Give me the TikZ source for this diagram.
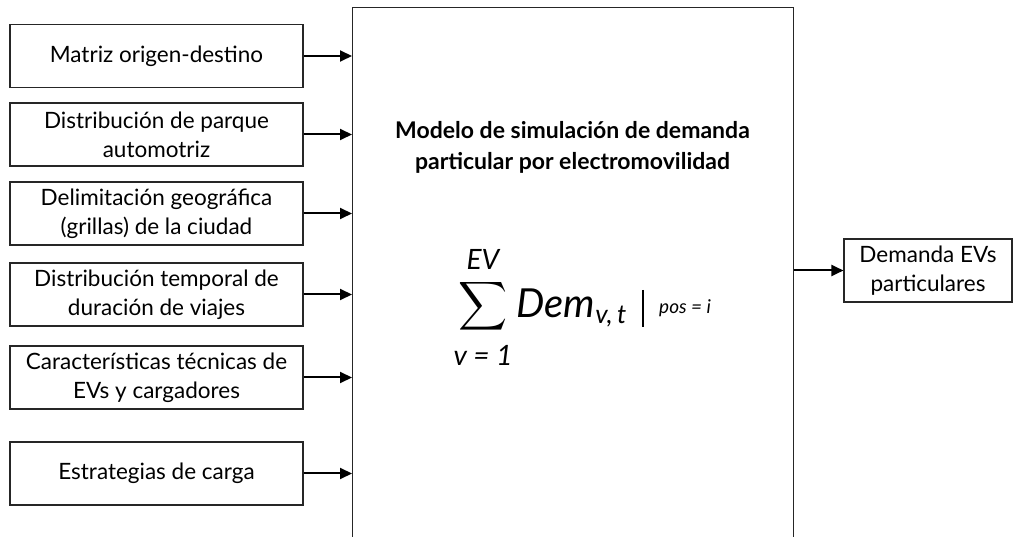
\documentclass[tikz,border=0pt]{standalone}
\usepackage{fontspec}
\usepackage{graphicx}
\setmainfont{Lato}
\usetikzlibrary{arrows.meta}
\begin{document}
\begin{tikzpicture}[x=1pt,y=-1pt,
  inbox/.style={draw=black!85, line width=1.1pt, rectangle, minimum width=293pt, minimum height=63pt,
    inner sep=0pt, align=center, font=\fontsize{22.5}{29}\selectfont},
  conn/.style={line width=2pt, -{Triangle[length=12pt,width=11pt]}},
  mtxt/.style={inner sep=0pt, font=\fontsize{#1}{#1}\selectfont\itshape}
]
\useasboundingbox (0,0) rectangle (1013,537);
\fill[white] (0,0) rectangle (1013,537);
\node[inbox] (b1) at (156.5,56) {Matriz origen-destino};
\node[inbox] (b2) at (156.5,134.5) {Distribución de parque\\automotriz};
\node[inbox] (b3) at (156.5,213.5) {Delimitación geográfica\\(grillas) de la ciudad};
\node[inbox] (b4) at (156.5,294.5) {Distribución temporal de\\duración de viajes};
\node[inbox] (b5) at (156.5,377.5) {Características técnicas de\\EVs y cargadores};
\node[inbox] (b6) at (156.5,473.5) {Estrategias de carga};
\node[draw=black!85, line width=1.3pt, rectangle, minimum width=441pt, minimum height=570pt, inner sep=0pt, anchor=north west] (main) at (352,7) {};
\node[inbox, minimum width=168pt] (out) at (928,270.5) {Demanda EVs\\particulares};
\node[inner sep=0pt, align=center, font=\fontsize{23}{31}\selectfont\bfseries] (title) at (572.5,147.5) {Modelo de simulación de demanda\\particular por electromovilidad};
% formula
\node[inner sep=0pt] (sig) at (483,306) {\scalebox{3.4}{$\displaystyle\sum$}};
\node[mtxt=28] (top) at (483,259) {EV};
\node[mtxt=28] (bot) at (483,355) {v = 1};
\node[mtxt=40, anchor=base west] (dem) at (516,318) {Dem};
\node[mtxt=26, anchor=base west] (sub) at ([xshift=0pt,yshift=-6pt]dem.base east) {v,\,t};
\draw[line width=1.2pt] (643,290) coordinate (bt) -- (643,327) coordinate (bb);
\node[mtxt=19, anchor=base west] (pos) at (659,314) {pos = i};
% connectors
\foreach \b in {b1,b2,b3,b4,b5,b6}
  \draw[conn] (\b.east) -- (\b.east -| main.west);
\draw[conn] (main.east |- out.west) -- (out.west);
\end{tikzpicture}
\end{document}
